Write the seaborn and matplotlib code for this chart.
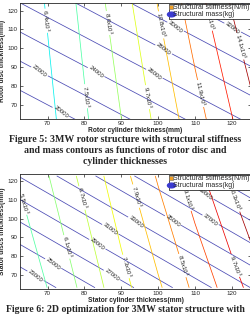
import matplotlib
matplotlib.use("Agg")
import matplotlib.pyplot as plt
import numpy as np
import seaborn as sns
from matplotlib.lines import Line2D
from matplotlib.markers import MarkerStyle
from matplotlib.transforms import Affine2D

# grid columns shared by both panels: cylinder thickness (mm)
cyl_thickness = [60, 70, 80, 90, 100, 110, 120, 130]

# rotor panel: disc thickness rows (mm), mass (x10^3 kg) and stiffness (N/m)
rotor_disc = [62, 124]
rotor_mass = [
    [4.84, 6.10, 7.36, 8.59, 9.96, 11.43, 12.95, 14.52],
    [5.25, 6.51, 7.80, 9.22, 10.85, 12.50, 14.20, 15.89],
]
rotor_stiff = [
    [17660, 18990, 20320, 21660, 22990, 24330, 25660, 26990],
    [25650, 26990, 28320, 29660, 30990, 32320, 33660, 34990],
]
rotor_mass_levels = [6.4, 7.5, 8.6, 9.7, 10.8, 11.9, 13.0, 14.1]
rotor_stiff_levels = [18000, 20000, 22000, 24000, 26000, 28000, 30000, 32000, 34000]

# stator panel
stator_disc = [63, 123]
stator_mass = [
    [4.78, 5.51, 6.25, 7.10, 7.81, 8.63, 9.41, 10.33],
    [5.41, 6.07, 6.88, 7.68, 8.57, 9.45, 10.43, 11.39],
]
stator_stiff = [
    [20670, 22560, 24460, 26350, 28250, 30150, 32040, 33940],
    [30640, 32530, 34430, 36330, 38220, 40120, 42010, 43910],
]
stator_mass_levels = [5.5, 6.1, 6.7, 7.3, 7.9, 8.5, 9.1, 9.7, 10.3]
stator_stiff_levels = [21000, 23000, 25000, 27000, 29000, 31000, 33000, 35000,
                       37000, 39000, 41000, 43000]

# where the contour labels sit (data coords)
rotor_mass_label_at = [(69.3, 114.5), (80.3, 74.4), (86.6, 113.4), (97.0, 73.9),
                       (100.9, 112.4), (110.7, 75.5), (113.7, 115.0), (121.4, 100.6)]
rotor_stiff_label_at = [(73.5, 65.8), (67.4, 86.1), (83.0, 86.7), (98.9, 86.1),
                        (101.7, 100.1), (105.0, 112.4), (120.9, 113.4)]
stator_mass_label_at = [(63.6, 108.5), (74.6, 84.6), (79.2, 111.1), (91.8, 74.7),
                        (93.2, 111.7), (106.3, 74.7), (107.4, 110.1), (120.6, 74.7),
                        (120.6, 110.6)]
stator_stiff_label_at = [(66.6, 69.0), (71.0, 74.2), (87.2, 69.0), (83.6, 86.7),
                         (87.2, 95.0), (94.0, 98.1), (103.9, 98.6), (114.0, 98.6),
                         (112.4, 111.7)]

BLUE = "#4a4ab4"

sns.set_style("ticks")
plt.rcParams["font.family"] = ["Liberation Sans", "DejaVu Sans"]
plt.rcParams["xtick.direction"] = "in"
plt.rcParams["ytick.direction"] = "in"
plt.rcParams["axes.linewidth"] = 0.6

jet = matplotlib.colormaps["jet"]


def mass_fmt(v):
    return f"{v:g}x10$^3$"


def draw_panel(ax, disc, mass, stiff, mass_levels, stiff_levels,
               mass_at, stiff_at, vmin, vmax, xlabel, ylabel):
    X, Y = np.meshgrid(cyl_thickness, disc)
    ax.set_xlim(62.5, 125.2)
    ax.set_ylim(62.3, 124)

    cs_k = ax.contour(X, Y, np.array(stiff), levels=stiff_levels, colors=BLUE,
                      linewidths=0.55)
    cs_m = ax.contour(X, Y, np.array(mass), levels=mass_levels, cmap=jet,
                      vmin=vmin, vmax=vmax, linewidths=0.55)
    k_txt = ax.clabel(cs_k, manual=stiff_at, inline=True, fontsize=4.3,
                      fmt="%d", colors="#222222", inline_spacing=1)
    ax.clabel(cs_m, manual=mass_at, inline=True, fontsize=4.3,
              fmt=mass_fmt, colors="#222222", inline_spacing=1)
    for t in k_txt:
        t.set_rotation(-38)

    ax.set_xticks([70, 80, 90, 100, 110, 120])
    ax.set_yticks([70, 80, 90, 100, 110, 120])
    ax.tick_params(labelsize=4.5, length=2, width=0.5, pad=1.5, top=True, right=True)
    ax.set_xlabel(xlabel, fontsize=4.8, fontweight="bold", labelpad=0.5)
    ax.set_ylabel(ylabel, fontsize=4.8, fontweight="bold", labelpad=1.0)

    ellipse = MarkerStyle("o", transform=Affine2D().scale(1.7, 1.0))
    handles = [
        Line2D([], [], ls="none", marker="s", ms=2.2, mfc="#f0a028", mec="#707070", mew=0.4),
        Line2D([], [], ls="none", marker=ellipse, ms=3.4, mfc="#3a3ad0", mec="#3a3ad0"),
    ]
    leg = ax.legend(handles, ["Structural stiffness(N/m)", "Structural mass(kg)"],
                    loc="upper right", fontsize=5.0, fancybox=False, framealpha=1,
                    edgecolor="black", borderpad=0.1, handlelength=0.45,
                    handletextpad=0.1, labelspacing=-0.05, borderaxespad=0.1)
    leg.get_frame().set_linewidth(0.5)


fig = plt.figure(figsize=(2.5, 3.15), dpi=100)
ax_top = fig.add_axes([0.08, 0.6222, 0.924, 0.3683])
ax_bot = fig.add_axes([0.08, 0.0825, 0.924, 0.3651])

draw_panel(ax_top, rotor_disc, rotor_mass, rotor_stiff, rotor_mass_levels,
           rotor_stiff_levels, rotor_mass_label_at, rotor_stiff_label_at, 1.85, 14.5,
           "Rotor cylinder thickness(mm)", "Rotor disc thickness(mm)")
draw_panel(ax_bot, stator_disc, stator_mass, stator_stiff, stator_mass_levels,
           stator_stiff_levels, stator_mass_label_at, stator_stiff_label_at, 1.33, 10.6,
           "Stator cylinder thickness(mm)", "Stator discs thickness(mm)")

cap = dict(ha="center", va="center", fontsize=7.1, fontweight="bold",
           family=["Liberation Serif", "DejaVu Serif"])
fig.text(0.5, 1 - 139 / 315, "Figure 5: 3MW rotor structure with structural stiffness", **cap)
fig.text(0.5, 1 - 150.5 / 315, "and mass contours as functions of rotor disc and", **cap)
fig.text(0.5, 1 - 162 / 315, "cylinder thicknesses", **cap)
fig.text(0.5, 1 - 309 / 315, "Figure 6: 2D optimization for 3MW stator structure with", **cap)

fig.savefig("out.png", dpi=100)
